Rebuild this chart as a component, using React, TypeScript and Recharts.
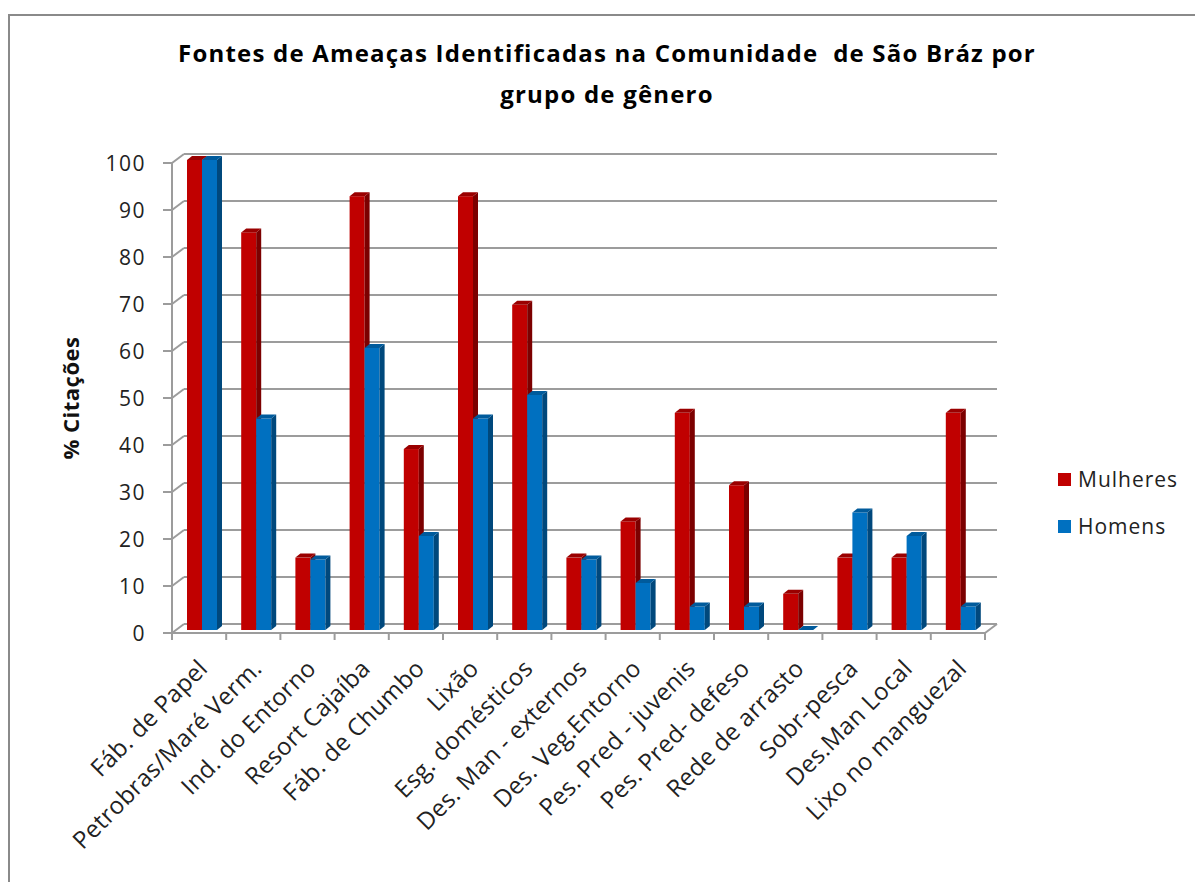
import { BarChart, Bar, XAxis, YAxis, CartesianGrid, Label } from 'recharts';

const categories = [
  'Fáb. de Papel',
  'Petrobras/Maré Verm.',
  'Ind. do Entorno',
  'Resort Cajaíba',
  'Fáb. de Chumbo',
  'Lixão',
  'Esg. domésticos',
  'Des. Man - externos',
  'Des. Veg.Entorno',
  'Pes. Pred - juvenis',
  'Pes. Pred- defeso',
  'Rede de arrasto',
  'Sobr-pesca',
  'Des.Man Local',
  'Lixo no manguezal',
];
const mulheres = [100, 84.6, 15.4, 92.3, 38.5, 92.3, 69.2, 15.4, 23.1, 46.2, 30.8, 7.7, 15.4, 15.4, 46.2];
const homens = [100, 45, 15, 60, 20, 45, 50, 15, 10, 5, 5, 0, 25, 20, 5];
const yTicks = [0, 10, 20, 30, 40, 50, 60, 70, 80, 90, 100];

const data = categories.map((name, i) => ({ name, mulheres: mulheres[i], homens: homens[i] }));

const FONT = "'Open Sans', 'Liberation Sans', sans-serif";
const GRID = '#9c9c9c';
const PLOT_LEFT = 172;
const PLOT_RIGHT = 985;
const PLOT_BOTTOM = 630;
const HALF_BAND = (PLOT_RIGHT - PLOT_LEFT) / categories.length / 2;
// depth of the 3d walls
const WX = 12;
const WY = 9;
// baseline of the end of the rotated category labels
const LABEL_Y = 670;

const makeShape = (front: string, side: string, top: string) => (p: any) => {
  const x = p.x + 3;
  const { y, width: w, height: h } = p;
  const d = 5;
  const dv = 4;
  return (
    <g>
      <rect x={x} y={y} width={w} height={h} fill={front} />
      <polygon points={`${x + w},${y} ${x + w + d},${y - dv} ${x + w + d},${y + h - dv} ${x + w},${y + h}`} fill={side} />
      <polygon points={`${x},${y} ${x + d},${y - dv} ${x + w + d},${y - dv} ${x + w},${y}`} fill={top} />
    </g>
  );
};

const redShape = makeShape('#c00000', '#7c0000', '#9a0000');
const blueShape = makeShape('#0070c0', '#00487c', '#005b9c');

function GridLine(p: any) {
  const { x1, x2, y1 } = p;
  return (
    <g key={p.key}>
      <line x1={x1 + WX} x2={x2 + WX} y1={y1 - 6} y2={y1 - 6} stroke={GRID} strokeWidth={2} />
      <line x1={x1} x2={x1 + WX} y1={y1 + 3} y2={y1 + 3 - WY} stroke={GRID} strokeWidth={2} />
    </g>
  );
}

function YTick({ x, y, payload }: any) {
  return (
    <g>
      <line x1={PLOT_LEFT - 9} x2={PLOT_LEFT} y1={y + 3} y2={y + 3} stroke={GRID} strokeWidth={2} />
      <text x={x} y={y + 3} textAnchor="end" dominantBaseline="central" fontSize={21} fill="#222" style={{ fontFamily: FONT, letterSpacing: 1.5 }}>
        {payload.value}
      </text>
    </g>
  );
}

function XTick({ x, payload, index }: any) {
  const last = index === categories.length - 1;
  const by = PLOT_BOTTOM + 3;
  const ax = x + 10;
  return (
    <g>
      <line x1={x - HALF_BAND} x2={x - HALF_BAND} y1={by} y2={by + 7} stroke={GRID} strokeWidth={2} />
      {last && (
        <>
          <line x1={x + HALF_BAND} x2={x + HALF_BAND} y1={by} y2={by + 7} stroke={GRID} strokeWidth={2} />
          <line x1={x + HALF_BAND} x2={x + HALF_BAND + WX} y1={by} y2={by - WY} stroke={GRID} strokeWidth={2} />
        </>
      )}
      <text x={ax} y={LABEL_Y} textAnchor="end" transform={`rotate(-45, ${ax}, ${LABEL_Y})`} fontSize={24} fill="#222" style={{ fontFamily: FONT, letterSpacing: 0.3 }}>
        {payload.value}
      </text>
    </g>
  );
}

export default function App() {
  return (
    <div style={{ position: 'relative', width: 1195, height: 882, background: '#fff', fontFamily: FONT }}>
      <style>{'body{margin:0;overflow:hidden}'}</style>
      <div style={{ position: 'absolute', left: 8, top: 14, width: 1187, height: 868, borderTop: '2px solid #8a8a8a', borderLeft: '2px solid #8a8a8a' }} />
      <div style={{ position: 'absolute', left: 107, top: 32, width: 1000, textAlign: 'center', fontWeight: 700, fontSize: 24, lineHeight: '41px', letterSpacing: 1.2, color: '#000', whiteSpace: 'pre' }}>
        {'Fontes de Ameaças Identificadas na Comunidade  de São Bráz por\ngrupo de gênero'}
      </div>
      <div style={{ position: 'absolute', left: 0, top: 0 }}>
        <BarChart width={1195} height={882} data={data} barGap={0} margin={{ top: 160, right: 1195 - PLOT_RIGHT, left: 0, bottom: 0 }}>
          <CartesianGrid vertical={false} horizontal={GridLine} />
          <XAxis
            dataKey="name"
            height={882 - PLOT_BOTTOM}
            interval={0}
            tickLine={false}
            tickSize={0}
            tickMargin={0}
            tick={<XTick />}
            axisLine={{ stroke: GRID, strokeWidth: 2, transform: 'translate(0,3)' }}
          />
          <YAxis
            width={PLOT_LEFT}
            domain={[0, 100]}
            ticks={yTicks}
            interval={0}
            tickLine={false}
            tickSize={9}
            tickMargin={17}
            tick={<YTick />}
            axisLine={{ stroke: GRID, strokeWidth: 2, transform: 'translate(0,3)' }}
          >
            <Label
              content={() => (
                <text x={70} y={398} transform="rotate(-90, 70, 398)" textAnchor="middle" dominantBaseline="central" fontSize={22} fontWeight={700} fill="#111" style={{ fontFamily: FONT, letterSpacing: 0.5 }}>
                  % Citações
                </text>
              )}
            />
          </YAxis>
          <Bar dataKey="mulheres" name="Mulheres" barSize={15} shape={redShape} isAnimationActive={false} />
          <Bar dataKey="homens" name="Homens" barSize={15} shape={blueShape} isAnimationActive={false} />
        </BarChart>
      </div>
      {[
        { label: 'Mulheres', color: '#c00000', top: 479 },
        { label: 'Homens', color: '#0070c0', top: 526 },
      ].map((l) => (
        <div key={l.label} style={{ position: 'absolute', left: 1058, top: l.top - 15, height: 30, display: 'flex', alignItems: 'center' }}>
          <span style={{ width: 13, height: 13, background: l.color, display: 'inline-block', marginRight: 7 }} />
          <span style={{ fontSize: 21, letterSpacing: 1, color: '#222' }}>{l.label}</span>
        </div>
      ))}
    </div>
  );
}
